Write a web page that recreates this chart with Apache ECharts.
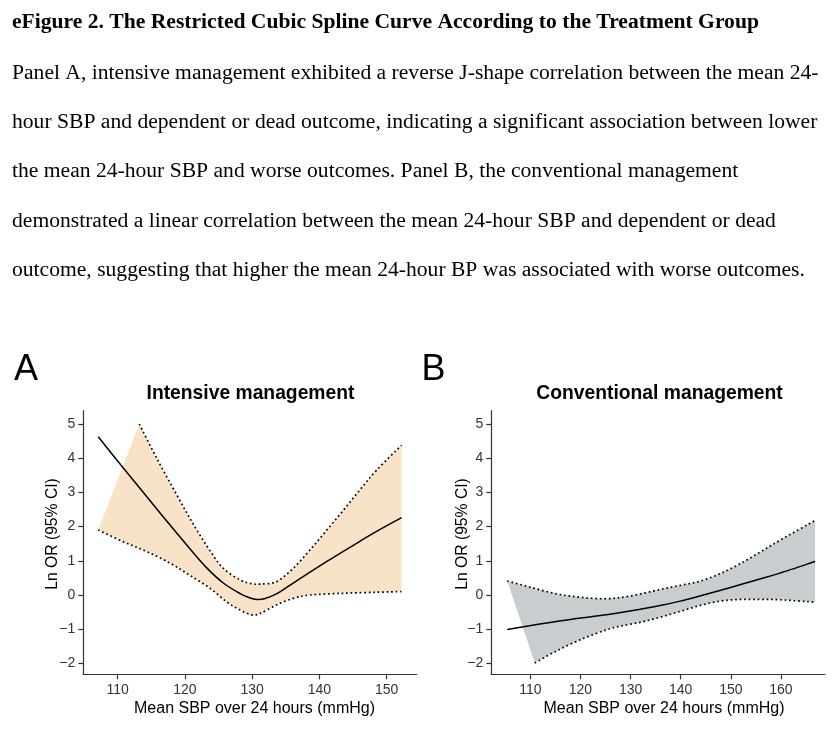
<!DOCTYPE html>
<html><head><meta charset="utf-8">
<script src="https://cdn.jsdelivr.net/npm/echarts@6/dist/echarts.min.js"></script>
<style>html,body{margin:0;padding:0;background:#fff}#c{width:837px;height:733px}</style>
</head><body><div id="c"></div>
<script>
// ---------- text ----------
const figureTitle = "eFigure 2. The Restricted Cubic Spline Curve According to the Treatment Group";
const captionLines = [
  "Panel A, intensive management exhibited a reverse J-shape correlation between the mean 24-",
  "hour SBP and dependent or dead outcome, indicating a significant association between lower",
  "the mean 24-hour SBP and worse outcomes. Panel B, the conventional management",
  "demonstrated a linear correlation between the mean 24-hour SBP and dependent or dead",
  "outcome, suggesting that higher the mean 24-hour BP was associated with worse outcomes."
];
const panelLetters = ["A", "B"];
const panelTitles = ["Intensive management", "Conventional management"];
const xAxisTitle = "Mean SBP over 24 hours (mmHg)";
const yAxisTitle = "Ln OR (95% CI)";

// ---------- tick labels ----------
const xTicksA = [110, 120, 130, 140, 150];
const xTicksB = [110, 120, 130, 140, 150, 160];
const yTicks = [-2, -1, 0, 1, 2, 3, 4, 5];

// ---------- Panel A: intensive management ----------
const aFitX = [107.1, 110.8, 114.3, 117.5, 120.7, 123.2, 125.7, 128.2, 129.6, 130.7, 131.8, 133.6, 136.1, 138.6, 141.1, 143.6, 146.0, 148.5, 152.2];
const aFit  = [4.63, 3.72, 2.88, 2.11, 1.36, 0.80, 0.35, 0.04, -0.08, -0.13, -0.11, 0.03, 0.35, 0.67, 0.98, 1.28, 1.57, 1.86, 2.26];
const aUpX  = [113.2, 115.8, 118.8, 121.3, 123.8, 125.7, 128.2, 129.9, 131.2, 133.6, 136.1, 138.6, 141.1, 143.6, 146.0, 148.5, 152.2];
const aUp   = [5.0, 4.0, 2.92, 2.05, 1.27, 0.78, 0.44, 0.33, 0.32, 0.39, 0.78, 1.32, 1.90, 2.49, 3.07, 3.65, 4.38];
const aLoX  = [107.1, 110.8, 114.3, 117.8, 120.7, 123.7, 126.2, 128.2, 129.9, 131.2, 133.6, 136.1, 138.6, 143.6, 148.5, 152.2];
const aLo   = [1.90, 1.56, 1.27, 0.93, 0.58, 0.20, -0.20, -0.44, -0.58, -0.54, -0.29, -0.10, 0.0, 0.05, 0.08, 0.10];

// ---------- Panel B: conventional management ----------
const bFitX = [105.4, 111.9, 118.6, 125.2, 129.9, 135.9, 139.9, 143.8, 147.8, 151.8, 155.8, 159.8, 166.8];
const bFit  = [-1.01, -0.85, -0.70, -0.58, -0.47, -0.31, -0.18, -0.03, 0.13, 0.30, 0.47, 0.64, 0.98];
const bUpX  = [105.4, 109.9, 115.3, 120.2, 125.2, 129.9, 135.9, 139.9, 143.8, 147.8, 151.8, 155.8, 159.8, 166.8];
const bUp   = [0.41, 0.23, 0.03, -0.07, -0.11, -0.03, 0.16, 0.28, 0.40, 0.62, 0.91, 1.25, 1.60, 2.18];
const bLoX  = [110.9, 115.3, 120.6, 125.2, 128.0, 131.9, 135.9, 139.9, 143.8, 147.8, 151.8, 155.8, 159.8, 166.8];
const bLo   = [-1.99, -1.63, -1.27, -1.02, -0.91, -0.80, -0.65, -0.48, -0.31, -0.18, -0.13, -0.13, -0.14, -0.21];

// ---------- drawing helpers ----------
function toPts(api, xs, ys) { return xs.map((x, i) => api.coord([x, ys[i]])); }
function spline(p, move) {
  let d = (move ? "M" : "L") + p[0][0] + " " + p[0][1];
  for (let i = 0; i < p.length - 1; i++) {
    const p0 = p[i - 1] || p[i], p1 = p[i], p2 = p[i + 1], p3 = p[i + 2] || p[i + 1];
    const c1x = p1[0] + (p2[0] - p0[0]) / 6, c1y = p1[1] + (p2[1] - p0[1]) / 6;
    const c2x = p2[0] - (p3[0] - p1[0]) / 6, c2y = p2[1] - (p3[1] - p1[1]) / 6;
    d += " C" + c1x + " " + c1y + " " + c2x + " " + c2y + " " + p2[0] + " " + p2[1];
  }
  return d;
}
function bandSeries(idx, fitX, fit, upX, up, loX, lo, fillColor) {
  return {
    type: "custom", coordinateSystem: "cartesian2d", xAxisIndex: idx, yAxisIndex: idx,
    silent: true, clip: true, data: [[fitX[0], fit[0]]],
    renderItem: function (params, api) {
      const pu = toPts(api, upX, up), pl = toPts(api, loX, lo).reverse();
      const pf = toPts(api, fitX, fit);
      const dotted = { fill: null, stroke: "#000", lineWidth: 1.7, lineDash: [1.7, 2.8], lineCap: "butt" };
      return { type: "group", children: [
        { type: "path", shape: { pathData: spline(pu, true) + " " + spline(pl, false) + " Z" }, style: { fill: fillColor, stroke: null } },
        { type: "path", shape: { pathData: spline(pu, true) }, style: dotted },
        { type: "path", shape: { pathData: spline(toPts(api, loX, lo), true) }, style: dotted },
        { type: "path", shape: { pathData: spline(pf, true) }, style: { fill: null, stroke: "#000", lineWidth: 1.5 } }
      ]};
    }
  };
}
const fmt = v => String(v).replace("-", "\u2212");
const axisCol = "#333";
function xAxisOpt(g, min, max, ticks) {
  return { type: "value", gridIndex: g, min: min, max: max, splitLine: { show: false },
    axisLine: { show: true, onZero: false, lineStyle: { color: axisCol, width: 1.2 } },
    axisTick: { show: true, length: 5, customValues: ticks, lineStyle: { color: axisCol, width: 1.2 } },
    axisLabel: { customValues: ticks, margin: 9, fontSize: 14, color: "#333", fontFamily: "Liberation Sans", formatter: fmt } };
}
function yAxisOpt(g) {
  return { type: "value", gridIndex: g, min: -2.32, max: 5.39, splitLine: { show: false },
    axisLine: { show: true, onZero: false, lineStyle: { color: axisCol, width: 1.2 } },
    axisTick: { show: true, length: 5, customValues: yTicks, lineStyle: { color: axisCol, width: 1.2 } },
    axisLabel: { customValues: yTicks, margin: 8, fontSize: 14, color: "#333", fontFamily: "Liberation Sans", formatter: fmt } };
}
function txt(x, y, s, size, weight, family, align, rot) {
  return { type: "text", x: x, y: y, rotation: rot || 0, silent: true,
    style: { text: s, fontSize: size, fontWeight: weight, fontFamily: family, fill: "#000", align: align, verticalAlign: "middle" } };
}

const serif = "Liberation Serif", sans = "Liberation Sans";
const graphics = [txt(12, 22.5, figureTitle, 21.6, "bold", serif, "left")];
const capY = [73, 122.5, 171.5, 221, 270.5];
captionLines.forEach((s, i) => graphics.push(txt(12, capY[i], s, 21.6, "normal", serif, "left")));
graphics.push(txt(14, 370, panelLetters[0], 36, "normal", sans, "left"));
graphics.push(txt(421.5, 370, panelLetters[1], 36, "normal", sans, "left"));
graphics.push(txt(250.5, 394, panelTitles[0], 19.3, "bold", sans, "center"));
graphics.push(txt(659.5, 394, panelTitles[1], 19.3, "bold", sans, "center"));
graphics.push(txt(254.5, 709, xAxisTitle, 16, "normal", sans, "center"));
graphics.push(txt(664, 709, xAxisTitle, 16, "normal", sans, "center"));
graphics.push(txt(52.5, 534, yAxisTitle, 15.7, "normal", sans, "center", Math.PI / 2));
graphics.push(txt(462.5, 534, yAxisTitle, 15.7, "normal", sans, "center", Math.PI / 2));

const chart = echarts.init(document.getElementById("c"), null, { renderer: "canvas" });
chart.setOption({
  animation: false,
  backgroundColor: "#fff",
  grid: [
    { left: 83.3, top: 410.7, width: 333.4, height: 263.6 },
    { left: 491.3, top: 410.7, width: 333.7, height: 263.6 }
  ],
  xAxis: [xAxisOpt(0, 104.88, 154.46, xTicksA), xAxisOpt(1, 102.22, 168.78, xTicksB)],
  yAxis: [yAxisOpt(0), yAxisOpt(1)],
  graphic: graphics,
  series: [
    bandSeries(0, aFitX, aFit, aUpX, aUp, aLoX, aLo, "#F9E3C8"),
    bandSeries(1, bFitX, bFit, bUpX, bUp, bLoX, bLo, "#C8CED0")
  ]
});
</script></body></html>
